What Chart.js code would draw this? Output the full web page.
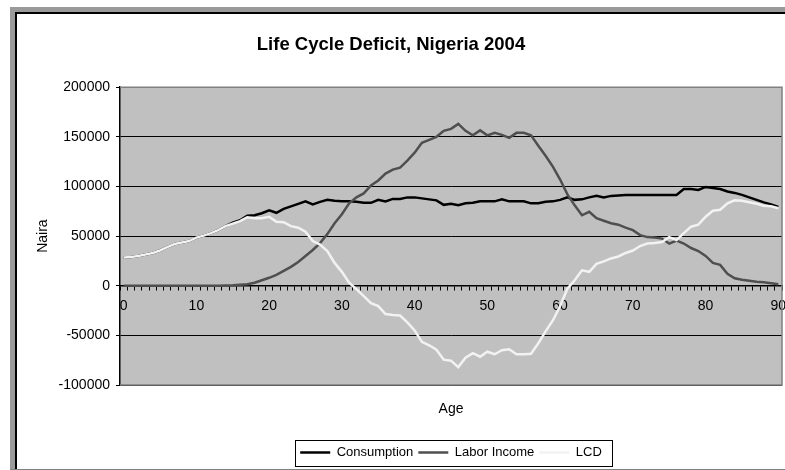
<!DOCTYPE html>
<html><head><meta charset="utf-8">
<script src="https://cdn.jsdelivr.net/npm/chart.js@4/dist/chart.umd.min.js"></script>
<style>
html,body{margin:0;padding:0;background:#fff;overflow:hidden;width:785px;height:470px;}
#wrap{position:relative;width:785px;height:470px;overflow:hidden;}
.f{position:absolute;}
#c{position:absolute;left:0;top:0;}
</style></head><body>
<div id="wrap">
<div class="f" style="left:10px;top:7px;width:900px;height:463px;background:#9a9a9a"></div>
<div class="f" style="left:15px;top:12px;width:900px;height:457px;background:#000"></div>
<div class="f" style="left:17px;top:14px;width:900px;height:455px;background:#fff"></div>
<div class="f" style="left:10px;top:469px;width:900px;height:1px;background:#808080"></div>
<canvas id="c" width="785" height="470"></canvas>
</div>
<script>
const ages = Array.from({length: 91}, (_, i) => String(i));
const xTickLabels = ['0','10','20','30','40','50','60','70','80','90'];
const seriesNames = ['Consumption', 'Labor Income', 'LCD'];

const consumption = [28500,29000,30000,31500,33000,35500,39000,42000,43500,45000,
48500,50500,53000,56000,60000,63500,66000,70500,71000,73000,
76000,73500,77500,80000,82500,85000,82000,84500,86500,85500,
85000,85000,84500,83500,83500,86500,85000,87500,87500,89000,
89000,88000,87000,86000,81500,82500,81000,83000,83500,85000,
85000,85000,87000,85000,85000,85000,83000,83000,84500,85000,
86500,89000,86500,87000,89000,90500,89000,90500,91000,91500,
91500,91500,91500,91500,91500,91500,91500,97500,97500,96500,
99500,98500,97500,95000,93500,91500,89000,86500,84000,82000,79500];

const laborIncome = [0,0,0,0,0,0,0,0,0,0,
0,0,0,0,200,500,1000,1500,3000,5500,
8000,11000,15000,19000,24000,30000,36000,43000,52000,63000,
72000,83000,89000,93000,101000,106000,113000,117000,119000,126000,
134000,144000,147000,150000,156000,158000,163000,156000,151500,156500,
151500,154000,152000,149000,154000,154000,151500,141000,131000,120000,
107000,92000,81000,71000,74500,68000,65500,63000,61500,58500,
56000,51000,49000,48500,47500,42500,45500,42500,38000,35000,
30000,23000,21000,12000,7500,6000,5000,4000,3500,2500,1500];

const lcd = [28500,29000,30000,31500,33000,35500,39000,42000,43500,45000,
48500,50500,53000,56000,60000,62500,65000,69000,68000,68000,
69500,64500,64000,60000,58500,54500,45000,41500,35000,23000,
14000,3000,-3500,-10500,-17500,-20500,-28500,-29500,-30000,-37000,
-45000,-56500,-60000,-64500,-74500,-75500,-82000,-72500,-68000,-71500,
-66500,-69000,-65000,-64000,-69000,-69000,-68500,-58000,-46000,-35000,
-20500,-3000,5500,15500,14000,22000,24500,27500,29500,33000,
35500,40000,42500,43000,44000,49000,46000,53000,59500,61500,
69500,75500,76500,83000,86000,85500,84000,82500,80500,80000,78000];

const FONT = "'Liberation Sans', Arial, sans-serif";

const plotDeco = {
  id: 'plotDeco',
  beforeDraw(chart) {
    const a = chart.chartArea, ctx = chart.ctx;
    ctx.save();
    ctx.fillStyle = '#c0c0c0';
    ctx.fillRect(a.left, a.top, a.right - a.left, a.bottom - a.top);
    ctx.restore();
  },
  beforeDatasetsDraw(chart) {
    const a = chart.chartArea, ctx = chart.ctx;
    ctx.save();
    ctx.strokeStyle = '#808080';
    ctx.lineWidth = 1.5;
    ctx.beginPath();
    ctx.moveTo(a.left, a.top); ctx.lineTo(a.right, a.top);
    ctx.lineTo(a.right, a.bottom); ctx.lineTo(a.left, a.bottom);
    ctx.stroke();
    ctx.restore();
  },
  afterDraw(chart) {
    const lg = chart.legend;
    if (!lg || !lg.legendHitBoxes || !lg.legendHitBoxes.length) return;
    const hb = lg.legendHitBoxes;
    const l = hb[0].left - 5;
    const last = hb[hb.length - 1];
    const r = last.left + last.width + 10;
    const t = hb[0].top - 6;
    const b = hb[0].top + hb[0].height + 7;
    const ctx = chart.ctx;
    ctx.save();
    ctx.strokeStyle = '#000';
    ctx.lineWidth = 1;
    ctx.strokeRect(Math.round(l) + 0.5, Math.round(t) + 0.5, Math.round(r - l), Math.round(b - t));
    ctx.restore();
  }
};

new Chart(document.getElementById('c'), {
  type: 'line',
  data: {
    labels: ages,
    datasets: [
      { label: seriesNames[0], data: consumption, borderColor: '#000000', backgroundColor: '#000000', borderWidth: 2.5, pointRadius: 0, tension: 0, fill: false, order: 2, xAxisID: 'x', yAxisID: 'y' },
      { label: seriesNames[1], data: laborIncome, borderColor: '#4f4f4f', backgroundColor: '#4f4f4f', borderWidth: 2.5, pointRadius: 0, tension: 0, fill: false, order: 1, xAxisID: 'x', yAxisID: 'y' },
      { label: seriesNames[2], data: lcd, borderColor: '#f2f2f2', backgroundColor: '#f2f2f2', borderWidth: 2.5, pointRadius: 0, tension: 0, fill: false, order: 0, xAxisID: 'x', yAxisID: 'y' }
    ]
  },
  options: {
    responsive: false,
    animation: false,
    devicePixelRatio: 1,
    layout: { padding: { left: 0, top: 14, right: 3, bottom: 1 } },
    plugins: {
      title: {
        display: true,
        text: 'Life Cycle Deficit, Nigeria 2004',
        color: '#000',
        font: { family: FONT, size: 18.5, weight: 'bold' },
        padding: { top: 20, bottom: 31 }
      },
      legend: {
        position: 'bottom',
        fullSize: false,
        labels: {
          usePointStyle: true,
          pointStyle: 'line',
          pointStyleWidth: 30,
          padding: 5,
          color: '#000',
          font: { family: FONT, size: 13 },
          sort: (a, b) => a.datasetIndex - b.datasetIndex
        }
      },
      tooltip: { enabled: false }
    },
    scales: {
      x: {
        type: 'category',
        offset: true,
        position: { y: 0 },
        border: { color: '#000', width: 1.5 },
        grid: { offset: true, drawOnChartArea: false, drawTicks: true, tickLength: 4, color: '#000' },
        ticks: {
          autoSkip: false, maxRotation: 0, minRotation: 0, padding: 8,
          color: '#000', font: { family: FONT, size: 14 },
          callback: function(v, i) { const l = ages[i]; return xTickLabels.includes(l) ? l : ''; }
        },
        afterFit: (s) => { s.paddingLeft = 0; s.paddingRight = 0; }
      },
      x2: {
        type: 'category',
        position: 'bottom',
        offset: true,
        grid: { display: false },
        border: { display: false },
        ticks: { display: false },
        title: { display: true, text: 'Age', color: '#000', font: { family: FONT, size: 14 }, padding: { top: 0, bottom: 23.6 } },
        afterFit: (s) => { s.height = 56; s.paddingLeft = 0; s.paddingRight = 0; }
      },
      y: {
        min: -100000,
        max: 200000,
        border: { color: '#000', width: 1.5 },
        grid: { color: '#000', lineWidth: 1, tickLength: 4 },
        ticks: { stepSize: 50000, padding: 6, color: '#000', font: { family: FONT, size: 14 }, callback: (v) => String(v) },
        title: { display: true, text: 'Naira', color: '#000', font: { family: FONT, size: 14 }, padding: { top: 34.6, bottom: 0 } },
        afterFit: (s) => { s.width = 120; }
      }
    }
  },
  plugins: [plotDeco]
});
</script>
</body></html>
